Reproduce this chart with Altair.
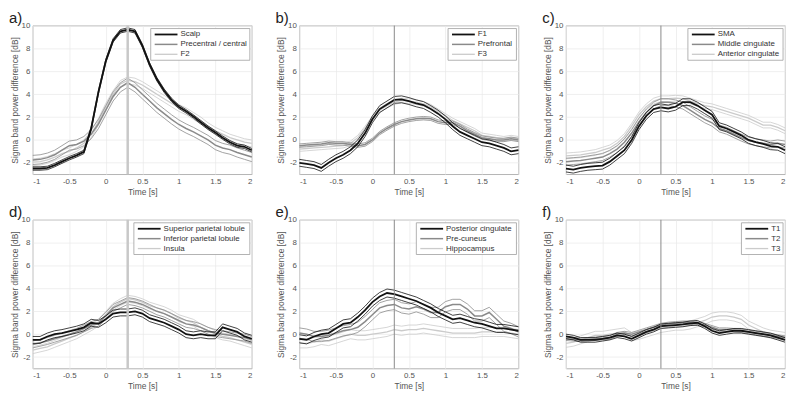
import altair as alt
import pandas as pd

# ---------------- data ----------------
TIME = [round(-1 + 0.1 * i, 1) for i in range(31)]
X_TICKS = [-1, -0.5, 0, 0.5, 1, 1.5, 2]
Y_TICKS = [-2, 0, 2, 4, 6, 8, 10]
ONSET = 0.3

PANEL_LABELS = ["a)", "b)", "c)", "d)", "e)", "f)"]
SERIES_NAMES = [
    ["Scalp", "Precentral / central", "F2"],
    ["F1", "Prefrontal", "F3"],
    ["SMA", "Middle cingulate", "Anterior cingulate"],
    ["Superior parietal lobule", "Inferior parietal lobule", "Insula"],
    ["Posterior cingulate", "Pre-cuneus", "Hippocampus"],
    ["T1", "T2", "T3"],
]

a_scalp = [-2.5, -2.5, -2.45, -2.2, -1.9, -1.6, -1.35, -1.05, 1.0, 4.2, 6.9, 8.7, 9.5, 9.65, 9.5, 8.25, 6.6, 5.3, 4.3, 3.5, 2.9, 2.5, 2.05, 1.55, 1.07, 0.65, 0.2, -0.2, -0.5, -0.6, -0.9]
a_prec = [-1.75, -1.7, -1.55, -1.3, -0.9, -0.5, -0.4, -0.1, 0.5, 1.4, 2.6, 3.8, 4.6, 5.0, 4.6, 4.0, 3.4, 2.8, 2.3, 1.8, 1.35, 1.0, 0.7, 0.35, 0.0, -0.45, -0.7, -0.85, -1.1, -1.3, -1.5]
a_f2 = [-1.95, -1.9, -1.75, -1.5, -1.2, -1.0, -0.7, -0.3, 0.5, 1.6, 2.9, 4.0, 4.9, 5.2, 5.1, 4.8, 4.4, 4.0, 3.6, 3.2, 2.8, 2.5, 2.1, 1.7, 1.2, 0.8, 0.5, 0.2, 0.0, -0.2, -0.3]
a_sem = [0.15, 0.4, 0.3]

b_f1 = [-2.0, -2.1, -2.2, -2.45, -2.0, -1.6, -1.3, -0.9, -0.3, 0.6, 1.8, 2.7, 3.1, 3.5, 3.55, 3.4, 3.2, 3.05, 2.7, 2.3, 1.8, 1.2, 0.7, 0.4, 0.1, -0.2, -0.3, -0.5, -0.7, -1.0, -0.9]
b_pref = [-0.5, -0.45, -0.4, -0.35, -0.25, -0.3, -0.3, -0.4, -0.5, -0.4, 0.0, 0.6, 1.0, 1.35, 1.6, 1.75, 1.85, 1.9, 1.85, 1.6, 1.5, 1.5, 1.2, 0.8, 0.5, 0.2, 0.1, 0.0, 0.0, 0.1, 0.0]
b_f3 = [-0.8, -0.75, -0.7, -0.65, -0.6, -0.55, -0.5, -0.3, 0.2, 1.0, 1.9, 2.6, 3.0, 3.3, 3.45, 3.4, 3.3, 3.15, 2.9, 2.5, 2.1, 1.7, 1.4, 1.1, 0.8, 0.4, 0.3, 0.2, 0.1, 0.2, 0.1]
b_sem = [0.3, 0.15, 0.2]

c_sma = [-2.5, -2.6, -2.45, -2.35, -2.3, -2.25, -1.9, -1.4, -0.9, 0.0, 1.2, 2.1, 2.7, 2.85, 2.75, 2.9, 3.3, 3.3, 3.0, 2.6, 2.2, 1.2, 1.0, 0.7, 0.4, 0.0, -0.2, -0.35, -0.55, -0.6, -0.9]
c_mid = [-1.9, -1.85, -1.8, -1.7, -1.6, -1.5, -1.2, -0.8, -0.2, 0.6, 1.6, 2.4, 3.0, 3.3, 3.3, 3.2, 3.0, 2.6, 2.2, 1.8, 1.5, 1.0, 0.8, 0.5, 0.2, -0.05, -0.2, -0.3, -0.4, -0.3, -0.4]
c_ant = [-1.4, -1.35, -1.3, -1.2, -1.1, -0.9, -0.7, -0.3, 0.3, 1.2, 2.2, 2.9, 3.4, 3.6, 3.6, 3.65, 3.6, 3.4, 3.2, 3.0, 2.9, 2.7, 2.5, 2.3, 2.1, 1.9, 1.6, 1.3, 1.3, 1.1, 0.8]
c_sem = [0.3, 0.3, 0.25]

d_sup = [-0.5, -0.5, -0.2, 0.0, 0.1, 0.25, 0.4, 0.6, 1.0, 0.9, 1.3, 1.8, 1.9, 1.9, 2.0, 1.8, 1.4, 1.2, 1.0, 0.7, 0.4, 0.0, -0.1, 0.0, -0.1, -0.1, 0.6, 0.4, 0.2, -0.2, -0.4]
d_inf = [-0.9, -0.75, -0.6, -0.4, -0.2, 0.0, 0.2, 0.5, 0.8, 1.0, 1.6, 2.3, 2.6, 2.9, 2.8, 2.6, 2.3, 2.0, 1.8, 1.5, 1.2, 0.9, 0.8, 0.6, 0.3, 0.1, 0.0, -0.1, -0.2, -0.3, -0.5]
d_ins = [-1.4, -1.25, -1.1, -0.85, -0.6, -0.35, -0.1, 0.25, 0.6, 1.0, 1.7, 2.4, 2.8, 3.1, 3.0, 2.8, 2.5, 2.3, 2.1, 1.8, 1.4, 1.2, 1.0, 0.6, 0.3, 0.0, -0.2, -0.3, -0.5, -0.7, -0.9]
d_sem = [0.3, 0.3, 0.3]

e_post = [-0.4, -0.5, -0.2, 0.0, 0.1, 0.5, 0.9, 1.0, 1.5, 2.1, 2.8, 3.3, 3.6, 3.5, 3.3, 3.1, 2.9, 2.6, 2.3, 1.9, 1.6, 1.3, 1.4, 1.2, 1.0, 0.9, 0.7, 0.5, 0.5, 0.4, 0.3]
e_prec = [0.1, 0.0, -0.2, -0.2, -0.1, 0.1, 0.3, 0.4, 0.6, 1.1, 1.7, 2.3, 2.5, 2.6, 2.3, 2.2, 2.4, 2.2, 1.9, 1.9, 2.4, 2.6, 2.6, 2.2, 1.6, 1.6, 1.9, 1.3, 0.7, 0.5, 0.2]
e_hip = [-0.8, -0.8, -0.7, -0.5, -0.6, -0.4, -0.2, 0.0, -0.1, -0.1, 0.0, 0.1, 0.2, 0.4, 0.3, 0.4, 0.4, 0.5, 0.4, 0.3, 0.2, 0.1, 0.1, 0.1, 0.1, 0.2, 0.2, 0.2, 0.2, 0.1, 0.0]
e_sem = [0.35, 0.45, 0.4]

f_t1 = [-0.2, -0.3, -0.5, -0.5, -0.5, -0.4, -0.3, -0.1, -0.2, -0.4, -0.1, 0.2, 0.4, 0.7, 0.75, 0.8, 0.85, 0.95, 1.0, 0.7, 0.3, 0.1, 0.2, 0.3, 0.3, 0.2, 0.1, 0.0, -0.1, -0.3, -0.5]
f_t2 = [-0.4, -0.45, -0.5, -0.45, -0.4, -0.35, -0.3, 0.0, 0.1, 0.0, 0.2, 0.4, 0.6, 0.8, 0.9, 0.95, 1.0, 1.0, 0.9, 0.8, 0.6, 0.4, 0.4, 0.35, 0.3, 0.2, 0.1, 0.0, -0.1, -0.2, -0.3]
f_t3 = [-0.8, -0.7, -0.5, -0.3, -0.1, -0.1, 0.0, 0.1, 0.2, -0.2, -0.1, 0.1, 0.3, 0.5, 0.6, 0.7, 0.7, 0.8, 1.0, 1.2, 1.5, 1.6, 1.6, 1.5, 1.3, 0.8, 0.5, 0.2, 0.0, -0.1, -0.2]
f_sem = [0.2, 0.15, 0.35]

PANEL_MEANS = [
    [a_scalp, a_prec, a_f2],
    [b_f1, b_pref, b_f3],
    [c_sma, c_mid, c_ant],
    [d_sup, d_inf, d_ins],
    [e_post, e_prec, e_hip],
    [f_t1, f_t2, f_t3],
]
PANEL_SEMS = [a_sem, b_sem, c_sem, d_sem, e_sem, f_sem]

# ---------------- styling ----------------
FONT = "Liberation Sans"
W, H = 221, 150
COLORS = ["#111111", "#8a8a8a", "#cbcbcb"]
MEAN_W = [1.8, 1.5, 1.3]
SEM_W = [0.8, 0.8, 0.8]
ONSET_STYLE = [("#c8c8c8", 2.5), ("#8a8a8a", 1.0), ("#8a8a8a", 1.0),
               ("#c8c8c8", 2.5), ("#8a8a8a", 1.0), ("#8a8a8a", 1.0)]
LEGEND_W = [100, 69, 96, 117, 101, 42]


def make_panel(p):
    rows = []
    for s in range(3):
        m = PANEL_MEANS[p][s]
        e = PANEL_SEMS[p][s]
        for t, v in zip(TIME, m):
            rows.append({"t": t, "v": v, "s": s, "c": "mean"})
            rows.append({"t": t, "v": v + e, "s": s, "c": "up"})
            rows.append({"t": t, "v": v - e, "s": s, "c": "lo"})
    df = pd.DataFrame(rows)
    base = alt.Chart(df)
    X = alt.X("t:Q", scale=alt.Scale(domain=[-1, 2], nice=False),
              axis=alt.Axis(values=X_TICKS, tickCount=20, title="Time [s]",
                            labelOverlap=False,
                            labelExpr="toString(datum.value)"))
    Y = alt.Y("v:Q", scale=alt.Scale(domain=[-3, 10], nice=False),
              axis=alt.Axis(values=Y_TICKS, tickCount=20,
                            title="Sigma band power difference [dB]",
                            labelOverlap=False,
                            labelExpr="toString(datum.value)"))
    layers = []
    for s in [2, 1, 0]:
        layers.append(
            base.transform_filter(f"datum.s == {s} && datum.c != 'mean'")
            .mark_line(color=COLORS[s], strokeWidth=SEM_W[s])
            .encode(x=X, y=Y, detail="c:N")
        )
        layers.append(
            base.transform_filter(f"datum.s == {s} && datum.c == 'mean'")
            .mark_line(color=COLORS[s], strokeWidth=MEAN_W[s])
            .encode(x=X, y=Y)
        )
    oc, ow = ONSET_STYLE[p]
    layers.append(
        alt.Chart(pd.DataFrame({"t": [ONSET]}))
        .mark_rule(color=oc, strokeWidth=ow)
        .encode(x=alt.X("t:Q"))
    )
    dummy = alt.Chart(pd.DataFrame({"k": [0]}))
    bw = LEGEND_W[p]
    bx = W - 2 - bw
    layers.append(
        dummy.mark_rect(fill="white", stroke="#9e9e9e", strokeWidth=0.8)
        .encode(x=alt.value(bx), x2=alt.value(W - 2), y=alt.value(3), y2=alt.value(35))
    )
    for j in range(3):
        yy = 9 + 10 * j
        layers.append(
            dummy.mark_rule(color=COLORS[j], strokeWidth=MEAN_W[j])
            .encode(x=alt.value(bx + 4), x2=alt.value(bx + 27), y=alt.value(yy))
        )
        layers.append(
            dummy.mark_text(align="left", baseline="middle", font=FONT, fontSize=8,
                            color="#333333", text=SERIES_NAMES[p][j])
            .encode(x=alt.value(bx + 30), y=alt.value(yy))
        )
    layers.append(
        dummy.mark_text(align="left", baseline="top", font=FONT, fontSize=15,
                        color="#222222", text=PANEL_LABELS[p])
        .encode(x=alt.value(-24), y=alt.value(-15))
    )
    return alt.layer(*layers).properties(width=W, height=H)


chart = alt.ConcatChart(
    concat=[make_panel(p) for p in range(6)],
    columns=3,
    spacing={"row": 46, "column": 48},
    bounds="flush",
    padding=0,
).configure_view(
    stroke="#a0a0a0", strokeWidth=0.8
).configure_axis(
    grid=True, gridColor="#e8e8e8", gridWidth=0.7,
    domain=False, ticks=False,
    labelFont=FONT, labelFontSize=8, labelColor="#555555", labelPadding=3,
    titleFont=FONT, titleFontSize=8.5, titleColor="#555555",
    titleFontWeight="normal", titlePadding=2,
)

chart.save("out.html", embed_options={"renderer": "svg", "actions": False})
